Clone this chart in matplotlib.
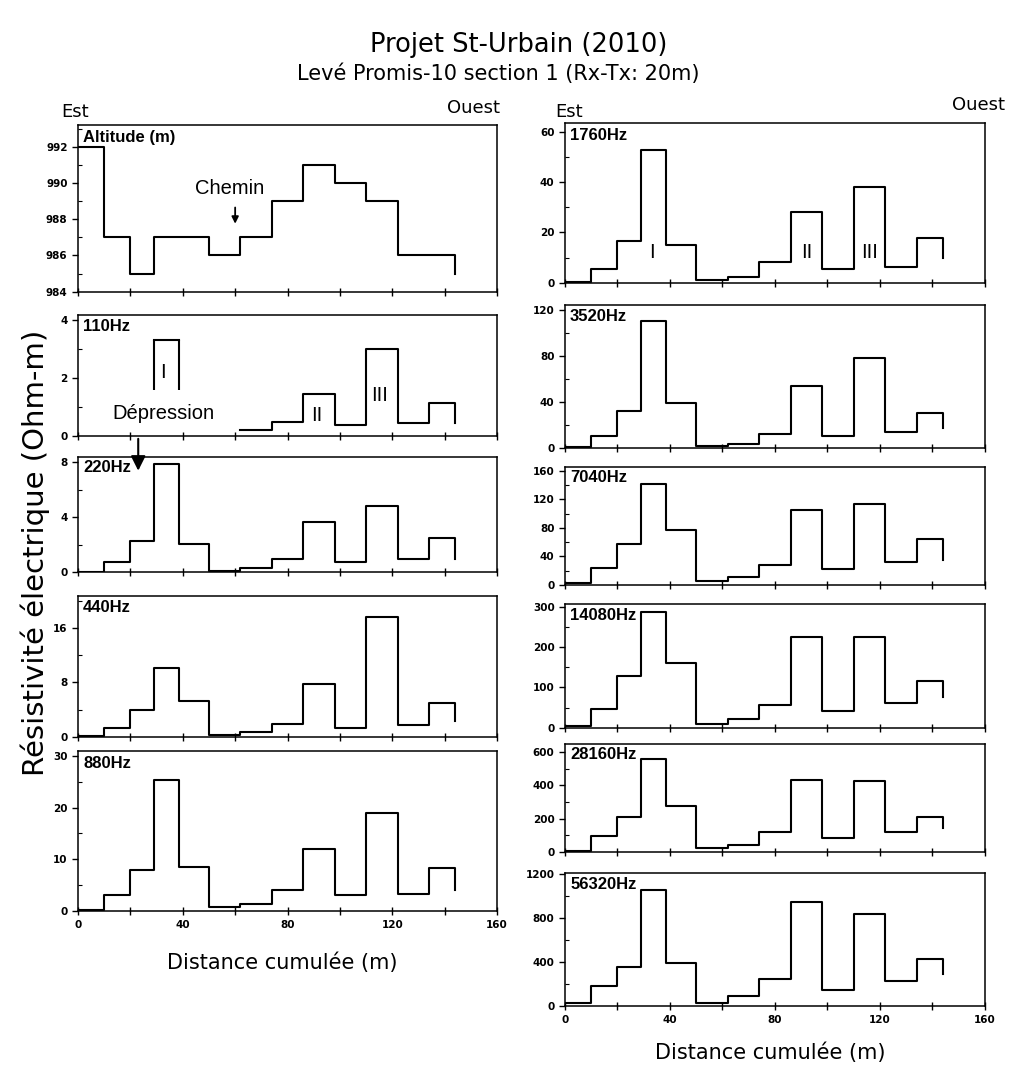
import numpy as np
import matplotlib.pyplot as plt
from matplotlib.ticker import MultipleLocator

nan = np.nan

# positions des stations (m) - la derniere valeur ferme le palier
distance = [0, 10, 20, 29, 38.5, 50, 62, 74, 86, 98, 110, 122, 134, 144]

altitude = [992, 987, 985, 987, 987, 986, 987, 989, 991, 990, 989, 986, 986, 985]
hz110 = [nan, nan, nan, 3.3, nan, nan, 0.2, 0.5, 1.45, 0.37, 3.0, 0.45, 1.15, 0.45]
hz110_stub = 1.6
hz220 = [0.05, 0.75, 2.3, 7.9, 2.1, 0.1, 0.35, 1.0, 3.7, 0.78, 4.8, 0.95, 2.5, 1.0]
hz440 = [0.05, 1.3, 4.0, 10.1, 5.3, 0.2, 0.7, 1.95, 7.8, 1.3, 17.6, 1.8, 5.0, 2.3]
hz880 = [0.05, 3.0, 7.9, 25.3, 8.5, 0.65, 1.2, 4.0, 11.9, 3.0, 19.0, 3.3, 8.3, 4.0]
hz1760 = [0.4, 5.4, 16.7, 52.8, 15.0, 1.0, 2.4, 8.3, 28.2, 5.3, 38.1, 6.4, 17.6, 9.7]
hz3520 = [0.9, 11, 32.4, 110.5, 39, 2, 4, 12.1, 53.8, 10.7, 78, 13.9, 30.4, 17.4]
hz7040 = [2.8, 23.4, 57, 141, 77.6, 5.1, 10.7, 28.5, 105, 22.9, 114, 31.8, 64, 35]
hz14080 = [4, 46, 129, 287, 159.5, 9, 20.7, 55, 224, 41, 224, 60, 116.5, 75]
hz28160 = [4, 95, 211, 557, 278, 22, 42, 119, 433, 85, 429, 121, 207, 141]
hz56320 = [25, 180, 360, 1055, 390, 31, 87, 251, 949, 149, 837, 226, 428, 288]

# (valeurs, etiquette, ymin, ymax, pas majeur, pas mineur, [left, bottom, width, height])
left_panels = [
    (altitude, "Altitude (m)", 984, 993.2, 2, 1, [0.0772, 0.7271, 0.415, 0.1560]),
    (hz110, "110Hz", 0, 4.17, 2, 1, [0.0772, 0.5921, 0.415, 0.1132]),
    (hz220, "220Hz", 0, 8.4, 4, 2, [0.0772, 0.4646, 0.415, 0.1079]),
    (hz440, "440Hz", 0, 20.7, 8, 4, [0.0772, 0.3108, 0.415, 0.1316]),
    (hz880, "880Hz", 0, 31, 10, 5, [0.0772, 0.1481, 0.415, 0.1494]),
]
right_panels = [
    (hz1760, "1760Hz", 0, 63.6, 20, 10, [0.5594, 0.7355, 0.4158, 0.1497]),
    (hz3520, "3520Hz", 0, 124.3, 40, 20, [0.5594, 0.5806, 0.4158, 0.1341]),
    (hz7040, "7040Hz", 0, 165.7, 40, 20, [0.5594, 0.4528, 0.4158, 0.1107]),
    (hz14080, "14080Hz", 0, 306.7, 100, 50, [0.5594, 0.3193, 0.4158, 0.1157]),
    (hz28160, "28160Hz", 0, 650, 200, 100, [0.5594, 0.2033, 0.4158, 0.1007]),
    (hz56320, "56320Hz", 0, 1210, 400, 200, [0.5594, 0.0589, 0.4158, 0.1241]),
]


def draw_panel(fig, values, label, ymin, ymax, major, minor, rect, last):
    ax = fig.add_axes(rect)
    ax.step(distance, values, where="post", color="black", lw=1.5)
    ax.set_xlim(0, 160)
    ax.set_ylim(ymin, ymax)
    ax.xaxis.set_major_locator(MultipleLocator(40))
    ax.xaxis.set_minor_locator(MultipleLocator(20))
    ax.yaxis.set_major_locator(MultipleLocator(major))
    ax.yaxis.set_minor_locator(MultipleLocator(minor))
    ax.tick_params(axis="x", which="both", direction="inout", length=6, width=1)
    ax.tick_params(axis="y", which="major", direction="out", length=4, width=1)
    ax.tick_params(axis="y", which="minor", direction="in", length=3, width=0.8)
    ax.tick_params(labelsize=7.5)
    for t in ax.get_yticklabels():
        t.set_fontweight("bold")
    if last:
        for t in ax.get_xticklabels():
            t.set_fontweight("bold")
    else:
        ax.set_xticklabels([])
    for s in ax.spines.values():
        s.set_linewidth(1.1)
    ax.text(0.012, 0.97, label, transform=ax.transAxes, ha="left", va="top",
            fontsize=12, fontweight="bold", family="Liberation Sans")
    return ax


fig = plt.figure(figsize=(10.1, 10.69), dpi=100)

axes_l = [draw_panel(fig, *p, last=(i == len(left_panels) - 1))
          for i, p in enumerate(left_panels)]
axes_r = [draw_panel(fig, *p, last=(i == len(right_panels) - 1))
          for i, p in enumerate(right_panels)]

ann = dict(fontsize=14.5, family="Liberation Sans")

# Altitude : chemin
ax_alt = axes_l[0]
ax_alt.text(58, 989.7, "Chemin", ha="center", va="center", **ann)
ax_alt.annotate("", xy=(60, 987.6), xytext=(60, 988.8),
                arrowprops=dict(arrowstyle="-|>", color="black", lw=1.3,
                                mutation_scale=10))

# 110Hz : anomalie I partiellement masquee
ax110 = axes_l[1]
ax110.vlines([distance[3], distance[4]], hz110_stub, hz110[3], color="black", lw=1.5)
ax110.text(32.5, 2.2, "I", ha="center", va="center", **ann)
ax110.text(91, 0.72, "II", ha="center", va="center", **ann)
ax110.text(115, 1.4, "III", ha="center", va="center", **ann)
ax110.text(32.5, 0.78, "Dépression", ha="center", va="center", **ann)
ax220 = axes_l[2]
ax220.annotate("", xy=(23, 7.2), xytext=(23, 0), textcoords=ax110.transData,
               annotation_clip=False,
               arrowprops=dict(arrowstyle="-|>", color="black", lw=1.5,
                               mutation_scale=22))

# 1760Hz : anomalies I, II, III
ax1760 = axes_r[0]
ax1760.text(33, 12, "I", ha="center", va="center", **ann)
ax1760.text(92, 12, "II", ha="center", va="center", **ann)
ax1760.text(116, 12, "III", ha="center", va="center", **ann)

# textes generaux
fig.text(0.514, 0.958, "Projet St-Urbain (2010)", ha="center", va="center", fontsize=18.5)
fig.text(0.493, 0.931, "Levé Promis-10 section 1 (Rx-Tx: 20m)", ha="center",
         va="center", fontsize=15)
fig.text(0.061, 0.895, "Est", ha="left", va="center", fontsize=13)
fig.text(0.495, 0.899, "Ouest", ha="right", va="center", fontsize=13)
fig.text(0.550, 0.895, "Est", ha="left", va="center", fontsize=13)
fig.text(0.995, 0.902, "Ouest", ha="right", va="center", fontsize=13)
fig.text(0.035, 0.483, "Résistivité électrique (Ohm-m)", ha="center", va="center",
         rotation=90, fontsize=21)
fig.text(0.279, 0.099, "Distance cumulée (m)", ha="center", va="center", fontsize=15)
fig.text(0.763, 0.015, "Distance cumulée (m)", ha="center", va="center", fontsize=15)

fig.savefig("out.png", dpi=100)
